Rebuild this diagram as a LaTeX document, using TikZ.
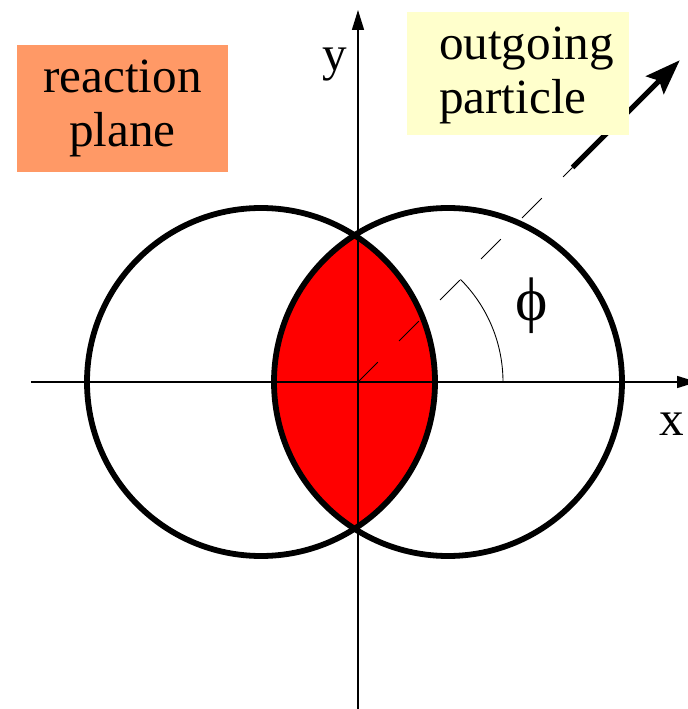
\documentclass[tikz,border=0pt]{standalone}
\usepackage{fontspec}
\setmainfont{Liberation Serif}
\usetikzlibrary{calc, arrows.meta}

\begin{document}
\begin{tikzpicture}[
    labelfont/.style={font=\fontsize{28pt}{30.7pt}\selectfont},
    axisline/.style={line width=0.85pt, -{Triangle[length=0.4cm,width=0.24cm]}},
    nucleus/.style={line width=3.3pt},
    thinline/.style={line width=0.5pt}
]
    % Define colours
    \definecolor{planeColour}{HTML}{FF9966}
    \definecolor{particleColour}{HTML}{FFFFCC}
    \definecolor{overlapColour}{HTML}{FF0000}

    % Define nucleus positions and radius
    \def\leftX{-1.94}
    \def\rightX{1.8}
    \def\radius{3.48}

    % Fix the picture size
    \useasboundingbox (-7.16,-6.54) rectangle (6.58,7.64);

    % Define coordinates for the axes
    \coordinate (O) at (0,0);
    \coordinate (xStart) at (-6.54,0);
    \coordinate (xEnd) at (6.78,0);
    \coordinate (yStart) at (0,-6.6);
    \coordinate (yEnd) at (0,7.44);

    % Fill the overlap region
    \begin{scope}
        \clip (\leftX,0) circle (\radius);
        \fill[overlapColour] (\rightX,0) circle (\radius);
    \end{scope}

    % Draw axes
    \draw[axisline] (xStart) -- (xEnd);
    \draw[axisline] (yStart) -- (yEnd);

    % Draw the two nuclei
    \draw[nucleus] (\leftX,0) circle (\radius);
    \draw[nucleus] (\rightX,0) circle (\radius);

    % Draw the particle direction
    \coordinate (trackEnd) at (45:6.07);
    \coordinate (tip) at (45:9.1);
    \draw[thinline, dash pattern=on 0.56cm off 0.6cm] (O) -- (trackEnd);
    \draw[line width=3pt, -{Stealth[length=0.7cm,width=0.5cm,inset=0.12cm]}] (trackEnd) -- (tip);

    % Draw the angle
    \draw[thinline] (2.9,0) arc[start angle=0, end angle=45, radius=2.9];

    % Label axes and angle
    \node[labelfont, anchor=base] (yLabel) at (-0.46,6.22) {y};
    \node[labelfont, anchor=base] (xLabel) at (6.27,-1.06) {x};
    \node[font=\fontsize{35pt}{38pt}\selectfont] (phiLabel) at (3.48,1.52) {ϕ};

    % Draw the boxes
    \node[labelfont, fill=planeColour, inner sep=0pt, minimum width=4.22cm, minimum height=2.54cm, align=center] (plane) at (-4.71,5.47) {reaction\\plane};
    \node[fill=particleColour, inner sep=0pt, minimum width=4.44cm, minimum height=2.46cm] (particleBox) at (3.2,6.17) {};
    \node[labelfont, anchor=west, align=left, inner sep=0pt] (particle) at ($(particleBox.west)+(0.64,-0.03)$) {outgoing\\particle};

\end{tikzpicture}
\end{document}
